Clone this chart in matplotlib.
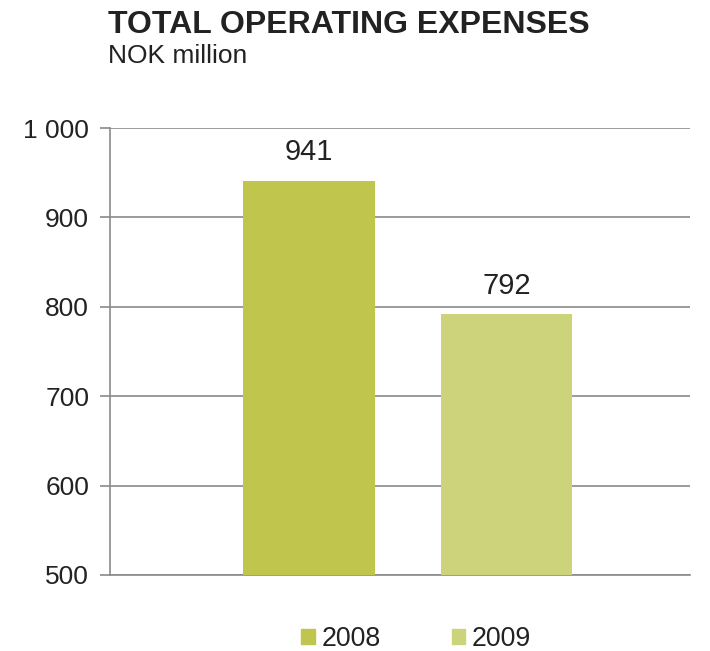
import matplotlib
matplotlib.use("Agg")
import matplotlib.pyplot as plt
from matplotlib.patches import Patch
from matplotlib.ticker import FuncFormatter

plt.rcParams['font.family'] = ['Liberation Sans', 'DejaVu Sans']

years = ["2008", "2009"]
values = [941, 792]
colors = ["#c0c54e", "#cdd37b"]
yticks = [500, 600, 700, 800, 900, 1000]

fig = plt.figure(figsize=(7.10, 6.51), dpi=100)
ax = fig.add_axes([110/710, 1-575/651, 580/710, (575-128)/651])

x = [0, 1]
bars = ax.bar(x, values, width=0.668, color=colors, zorder=3)
for xi, v in zip(x, values):
    ax.text(xi, v + 16, f"{v}", ha="center", va="bottom", fontsize=21, color="#222222")

ax.set_xlim(-1.008, 1.929)
ax.set_ylim(500, 1000)
ax.set_yticks(yticks)
ax.yaxis.set_major_formatter(FuncFormatter(lambda v, p: f"{int(v):,}".replace(",", " ")))
ax.tick_params(axis='y', length=7, width=1.2, color="#8a8a8a", labelsize=19, labelcolor="#222222", pad=8)
ax.set_xticks([])
ax.grid(axis='y', color="#8a8a8a", linewidth=1.2, zorder=0)
for s in ["top", "right"]:
    ax.spines[s].set_visible(False)
ax.spines["left"].set_color("#8a8a8a")
ax.spines["left"].set_linewidth(1.2)
ax.spines["bottom"].set_color("#8a8a8a")
ax.spines["bottom"].set_linewidth(1.2)

fig.text(108/710, 1-33/651, "TOTAL OPERATING EXPENSES", fontsize=23, fontweight="bold", color="#222222", va="baseline")
fig.text(108/710, 1-63/651, "NOK million", fontsize=19, color="#222222", va="baseline")

handles = [Patch(color=c, label=y) for c, y in zip(colors, years)]
fig.legend(handles=handles, loc="center", bbox_to_anchor=(416/710, 1-639/651), ncol=2, frameon=False,
           fontsize=19.3, handlelength=0.52, handleheight=0.52, handletextpad=0.22, columnspacing=2.65,
           labelcolor="#222222")

fig.savefig("out.png", dpi=100)
